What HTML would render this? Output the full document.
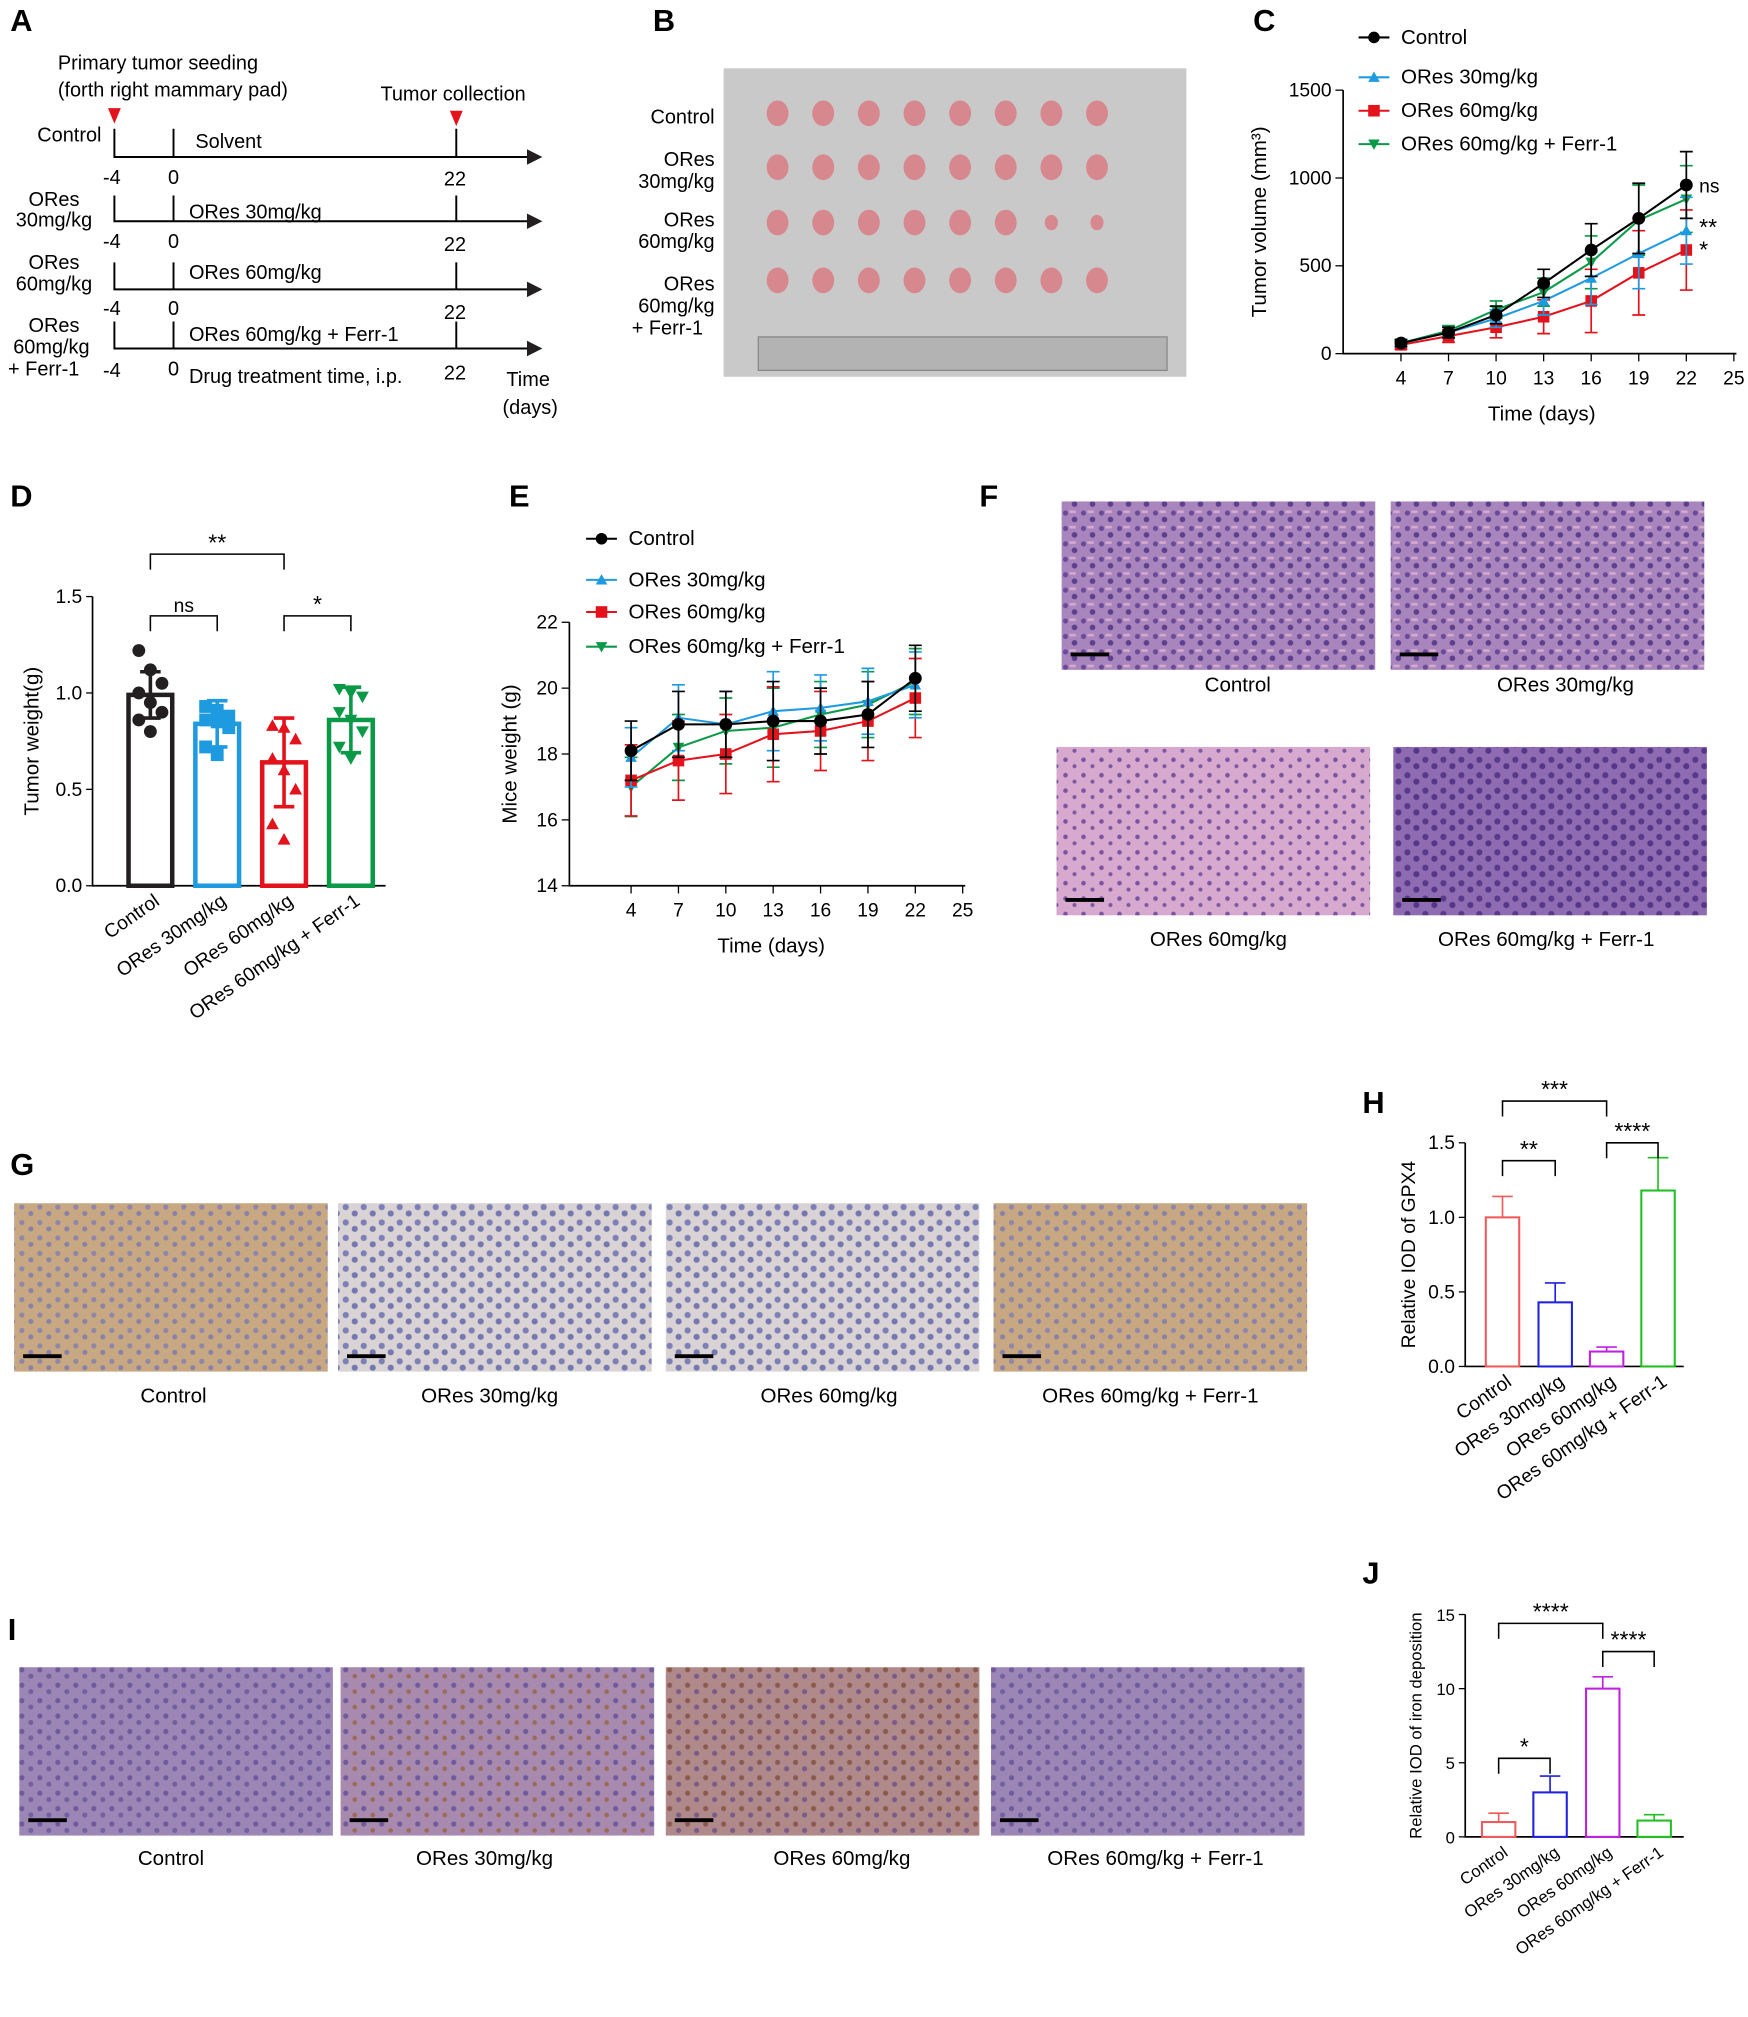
<!DOCTYPE html>
<html><head><meta charset="utf-8"><style>
html,body{margin:0;padding:0;background:#fff}
svg{display:block;font-family:"Liberation Sans",Arial,sans-serif}
</style></head><body>
<svg id="fig" width="1748" height="2017" viewBox="0 0 1360 1569" xmlns="http://www.w3.org/2000/svg">
<defs>
<pattern id="he1" width="14" height="12" patternUnits="userSpaceOnUse"><rect width="14" height="12" fill="#a886bd"/><circle cx="3" cy="3" r="2" fill="#6a4a98"/><circle cx="10" cy="8" r="2.2" fill="#5e3f8e"/><rect x="6" y="1" width="5" height="2" fill="#d7a9cf"/></pattern>
<pattern id="he2" width="14" height="12" patternUnits="userSpaceOnUse"><rect width="14" height="12" fill="#d8a9cf"/><circle cx="3" cy="3" r="1.8" fill="#7a54a0"/><circle cx="10" cy="8" r="1.6" fill="#7c58a2"/></pattern>
<pattern id="he3" width="14" height="12" patternUnits="userSpaceOnUse"><rect width="14" height="12" fill="#8f6cb2"/><circle cx="3" cy="3" r="2.4" fill="#58398a"/><circle cx="10" cy="8" r="2.4" fill="#553688"/></pattern>
<pattern id="ihcBrown" width="14" height="12" patternUnits="userSpaceOnUse"><rect width="14" height="12" fill="#c7a883"/><circle cx="3" cy="3" r="2" fill="#8f86a8"/><circle cx="10" cy="8" r="2" fill="#8a82a5"/></pattern>
<pattern id="ihcBlue" width="14" height="12" patternUnits="userSpaceOnUse"><rect width="14" height="12" fill="#d9d3d6"/><circle cx="3" cy="3" r="2.4" fill="#7c80b4"/><circle cx="10" cy="8" r="2.4" fill="#7478ae"/></pattern>
<pattern id="ironA" width="14" height="12" patternUnits="userSpaceOnUse"><rect width="14" height="12" fill="#9c86b6"/><circle cx="3" cy="3" r="2" fill="#6e5a9c"/><circle cx="10" cy="8" r="2" fill="#73609f"/></pattern>
<pattern id="ironB" width="14" height="12" patternUnits="userSpaceOnUse"><rect width="14" height="12" fill="#a78aae"/><circle cx="3" cy="3" r="2" fill="#6e5a9c"/><circle cx="10" cy="8" r="1.8" fill="#9b6a58"/></pattern>
<pattern id="ironC" width="14" height="12" patternUnits="userSpaceOnUse"><rect width="14" height="12" fill="#b08a8a"/><circle cx="3" cy="3" r="2" fill="#8a5a50"/><circle cx="10" cy="8" r="2" fill="#7a5a88"/></pattern>
</defs>
<g font-size="16" fill="#000">
<!-- Panel labels -->
<text x="8" y="24" font-size="24" font-weight="bold">A</text>
<text x="508" y="24" font-size="24" font-weight="bold">B</text>
<text x="975" y="24" font-size="24" font-weight="bold">C</text>
<text x="8" y="394" font-size="24" font-weight="bold">D</text>
<text x="396" y="394" font-size="24" font-weight="bold">E</text>
<text x="762" y="394" font-size="24" font-weight="bold">F</text>
<text x="8" y="914" font-size="24" font-weight="bold">G</text>
<text x="1060" y="866" font-size="24" font-weight="bold">H</text>
<text x="6" y="1276" font-size="24" font-weight="bold">I</text>
<text x="1060" y="1232" font-size="24" font-weight="bold">J</text>
</g>
<!-- Panel A -->
<g id="panelA" font-size="15.5" stroke-width="1.5">
<text x="45" y="54">Primary tumor seeding</text>
<text x="45" y="75">(forth right mammary pad)</text>
<text x="296" y="78">Tumor collection</text>
<polygon points="84,84 94,84 89,96" fill="#e3121b"/>
<polygon points="350,86 360,86 355,98" fill="#e3121b"/>
<text x="29" y="110">Control</text><text x="152" y="115">Solvent</text>
<text x="42" y="160" text-anchor="middle">ORes</text><text x="42" y="176" text-anchor="middle">30mg/kg</text>
<text x="42" y="209" text-anchor="middle">ORes</text><text x="42" y="226" text-anchor="middle">60mg/kg</text>
<text x="42" y="258" text-anchor="middle">ORes</text><text x="40" y="275" text-anchor="middle">60mg/kg</text><text x="34" y="292" text-anchor="middle">+ Ferr-1</text>
<text x="147" y="170">ORes 30mg/kg</text>
<text x="147" y="217">ORes 60mg/kg</text>
<text x="147" y="265">ORes 60mg/kg + Ferr-1</text>
<text x="147" y="298">Drug treatment time, i.p.</text>
<text x="394" y="300">Time</text><text x="391" y="322">(days)</text>
<g stroke="#000" fill="none">
<path d="M89,100V122H415M135,100V122M355,100V122"/>
<path d="M89,152V172H415M135,152V172M355,152V172"/>
<path d="M89,204V225H415M135,204V225M355,204V225"/>
<path d="M89,250V271H415M135,250V271M355,250V271"/>
</g>
<g fill="#231f20"><polygon points="410,116 422,122 410,128"/><polygon points="410,166 422,172 410,178"/><polygon points="410,219 422,225 410,231"/><polygon points="410,265 422,271 410,277"/></g>
<g text-anchor="middle">
<text x="87" y="143">-4</text><text x="135" y="143">0</text><text x="354" y="144">22</text>
<text x="87" y="193">-4</text><text x="135" y="193">0</text><text x="354" y="195">22</text>
<text x="87" y="245">-4</text><text x="135" y="245">0</text><text x="354" y="248">22</text>
<text x="87" y="293">-4</text><text x="135" y="292">0</text><text x="354" y="295">22</text>
</g>
</g>
<!-- Panel B -->
<g id="panelB" font-size="15.5">
<text x="556" y="96" text-anchor="end">Control</text>
<text x="556" y="129" text-anchor="end">ORes</text><text x="556" y="146" text-anchor="end">30mg/kg</text>
<text x="556" y="176" text-anchor="end">ORes</text><text x="556" y="193" text-anchor="end">60mg/kg</text>
<text x="556" y="226" text-anchor="end">ORes</text><text x="556" y="243" text-anchor="end">60mg/kg</text><text x="547" y="260" text-anchor="end">+ Ferr-1</text>
<rect x="563" y="53" width="360" height="240" fill="#c9c9c9"/>
<rect x="590" y="262" width="318" height="26" fill="#b3b3b3" stroke="#888"/>
<g id="tumors"></g>
</g>
<g id="charts"></g>
<g id="histo"></g>
</svg>
<script>
// ---------- data ----------
const days = [4, 7, 10, 13, 16, 19, 22];
const xTicks = [4, 7, 10, 13, 16, 19, 22, 25];
const cControl = [60, 120, 220, 400, 590, 770, 960];
const c30 = [60, 120, 200, 300, 430, 570, 700];
const c60 = [50, 100, 150, 210, 300, 460, 590];
const cFerr = [60, 130, 250, 350, 520, 760, 880];
const cErr = [20, 30, 50, 80, 150, 200, 190];
const eControl = [18.1, 18.9, 18.9, 19.0, 19.0, 19.2, 20.3];
const e30 = [17.9, 19.1, 18.9, 19.3, 19.4, 19.6, 20.1];
const e60 = [17.2, 17.8, 18.0, 18.6, 18.7, 19.0, 19.7];
const eFerr = [17.0, 18.2, 18.7, 18.8, 19.2, 19.5, 20.2];
const eErr = [0.9, 1.0, 1.0, 1.2, 1.0, 1.0, 1.0];
const groups = ["Control", "ORes 30mg/kg", "ORes 60mg/kg", "ORes 60mg/kg + Ferr-1"];
const dMeans = [0.99, 0.84, 0.64, 0.86];
const dErrs = [0.12, 0.12, 0.23, 0.17];
const dPoints = [[1.22,1.12,1.05,1.0,0.95,0.90,0.86,0.80],[0.93,0.91,0.88,0.86,0.85,0.82,0.72,0.68],[0.83,0.82,0.76,0.66,0.60,0.50,0.32,0.24],[1.02,1.0,0.98,0.90,0.86,0.80,0.72,0.66]];
const hMeans = [1.0, 0.43, 0.1, 1.18];
const hErrs = [0.14, 0.13, 0.03, 0.22];
const jMeans = [1.0, 3.0, 10.0, 1.1];
const jErrs = [0.6, 1.1, 0.8, 0.4];
const colors = ["#231f20", "#1e9be0", "#e3121b", "#0a9a47"];
const hColors = ["#f05a5a", "#2020e0", "#c020e0", "#20c020"];

const NS = "http://www.w3.org/2000/svg";
const charts = document.getElementById("charts");
function mk(tag, attrs, parent, text) {
  const e = document.createElementNS(NS, tag);
  for (const k in attrs) e.setAttribute(k, attrs[k]);
  if (text !== undefined) e.textContent = text;
  (parent || charts).appendChild(e);
  return e;
}
function marker(g, shape, x, y, col, s) {
  let el;
  if (shape === "circle") el = mk("circle", {cx: x, cy: y, r: s, fill: col}, g);
  else if (shape === "square") el = mk("rect", {x: x - s, y: y - s, width: 2 * s, height: 2 * s, fill: col}, g);
  else if (shape === "up") el = mk("polygon", {points: `${x},${y - s} ${x - s},${y + s * 0.8} ${x + s},${y + s * 0.8}`, fill: col}, g);
  else el = mk("polygon", {points: `${x},${y + s} ${x - s},${y - s * 0.8} ${x + s},${y - s * 0.8}`, fill: col}, g);
  
  
  return el;
}

// ---------- line charts (C, E) ----------
function lineChart(cfg) {
  const g = mk("g", {});
  
  
  const xs = d => cfg.x0 + (d - 4) * (cfg.x1 - cfg.x0) / 21;
  const ys = v => cfg.y0 - (v - cfg.ymin) * (cfg.y0 - cfg.y1) / (cfg.ymax - cfg.ymin);
  mk("path", {d: `M${cfg.ax},${ys(cfg.ymax)}V${cfg.y0}H${cfg.x1 + 2}`, stroke: "#000", fill: "none", "stroke-width": 1.3}, g);
  xTicks.forEach(t => {
    mk("line", {x1: xs(t), x2: xs(t), y1: cfg.y0, y2: cfg.y0 + 6, stroke: "#000"}, g);
    const tl = mk("text", {x: xs(t), y: cfg.y0 + 24, "text-anchor": "middle", "font-size": 15}, g, t);
    
    
  });
  cfg.yTicks.forEach(t => {
    mk("line", {x1: cfg.ax - 6, x2: cfg.ax, y1: ys(t), y2: ys(t), stroke: "#000"}, g);
    const tl = mk("text", {x: cfg.ax - 9, y: ys(t) + 5, "text-anchor": "end", "font-size": 15}, g, t);
    
    
  });
  const xt = mk("text", {x: (cfg.x0 + cfg.x1) / 2 - 20, y: cfg.y0 + 52, "text-anchor": "middle", "font-size": 16}, g, "Time (days)");
  
  
  const yt = mk("text", {transform: `translate(${cfg.ytx},${(cfg.y0 + ys(cfg.ymax)) / 2}) rotate(-90)`, "text-anchor": "middle", "font-size": 16}, g, cfg.ytitle);
  
  
  const shapes = ["circle", "up", "square", "down"];
  const order = [3, 2, 1, 0];
  order.forEach(i => {
    const vals = cfg.series[i], col = colors[i] === "#231f20" ? "#000" : colors[i];
    const sg = mk("g", {}, g);
    
    
    vals.forEach((v, k) => {
      const e = cfg.err[k] * (i === 2 ? 1.2 : 1);
      mk("path", {d: `M${xs(days[k])},${ys(v - e)}V${ys(v + e)}M${xs(days[k]) - 5},${ys(v + e)}h10M${xs(days[k]) - 5},${ys(v - e)}h10`, stroke: col, "stroke-width": 1.3}, sg);
    });
    mk("polyline", {points: vals.map((v, k) => xs(days[k]) + "," + ys(v)).join(" "), fill: "none", stroke: col, "stroke-width": 1.6}, sg);
    vals.forEach((v, k) => marker(sg, shapes[i], xs(days[k]), ys(v), col, i === 0 ? 5 : 4.5));
  });
  cfg.legendY.forEach((ly, i) => {
    const col = colors[i] === "#231f20" ? "#000" : colors[i];
    const lg = mk("g", {}, g);
    
    
    mk("line", {x1: cfg.lx, x2: cfg.lx + 24, y1: ly, y2: ly, stroke: col, "stroke-width": 1.6}, lg);
    marker(lg, shapes[i], cfg.lx + 12, ly, col, 4.5);
    mk("text", {x: cfg.lx + 33, y: ly + 5, "font-size": 16}, lg, groups[i]);
  });
  return {g, xs, ys};
}
const C = lineChart({name: "tumor-volume-chart", x0: 1090, x1: 1349, ax: 1045, y0: 275, y1: 70, ymin: 0, ymax: 1500,
  yTicks: [0, 500, 1000, 1500], ytitle: "Tumor volume (mm³)", ytx: 985, series: [cControl, c30, c60, cFerr], err: cErr,
  lx: 1057, legendY: [29, 60, 86, 112]});
[["ns", 960], ["**", 720], ["*", 590]].forEach(([t, v], i) => {
  const s = mk("text", {x: 1322, y: C.ys(v) + 6, "font-size": i ? 18 : 15}, C.g, t);
  
  
});
lineChart({name: "mice-weight-chart", x0: 491, x1: 749, ax: 443, y0: 689, y1: 484, ymin: 14, ymax: 22,
  yTicks: [14, 16, 18, 20, 22], ytitle: "Mice weight (g)", ytx: 402, series: [eControl, e30, e60, eFerr], err: eErr,
  lx: 456, legendY: [419, 451, 476, 503]});

// ---------- bar charts ----------
function barChart(cfg) {
  const g = mk("g", {});
  
  
  const ys = v => cfg.y0 - v * (cfg.y0 - cfg.y1) / cfg.ymax;
  mk("path", {d: `M${cfg.ax},${ys(cfg.ymax)}V${cfg.y0}H${cfg.xEnd}`, stroke: "#000", fill: "none", "stroke-width": 1.3}, g);
  cfg.yTicks.forEach(t => {
    mk("line", {x1: cfg.ax - 5, x2: cfg.ax, y1: ys(t), y2: ys(t), stroke: "#000"}, g);
    const tl = mk("text", {x: cfg.ax - 8, y: ys(t) + 5, "text-anchor": "end", "font-size": cfg.fs}, g, cfg.tickFmt(t));
    
    
  });
  const yt = mk("text", {transform: `translate(${cfg.ytx},${(cfg.y0 + ys(cfg.ymax)) / 2}) rotate(-90)`, "text-anchor": "middle", "font-size": cfg.ytfs}, g, cfg.ytitle);
  
  
  cfg.means.forEach((m, i) => {
    const cx = cfg.cx[i], col = cfg.colors[i], w = cfg.bw;
    const b = mk("rect", {x: cx - w / 2, y: ys(m), width: w, height: cfg.y0 - ys(m), fill: "none", stroke: col, "stroke-width": cfg.sw}, g);
    
    
    const e = cfg.errs[i];
    mk("path", {d: `M${cx},${ys(m)}V${ys(m + e)}M${cx - 8},${ys(m + e)}h16` + (cfg.both ? `M${cx},${ys(m)}V${ys(m - e)}M${cx - 8},${ys(m - e)}h16` : ""), stroke: col, "stroke-width": cfg.sw * 0.8, fill: "none"}, g);
    if (cfg.points) cfg.points[i].forEach((p, k) => marker(g, ["circle", "square", "up", "down"][i], cx + ((k % 3) - 1) * 9, ys(p), col, 5));
    const lab = mk("text", {transform: `translate(${cx + 8},${cfg.y0 + 14}) rotate(-35)`, "text-anchor": "end", "font-size": cfg.fs}, g, cfg.labels[i]);
    
    
  });
  cfg.brackets.forEach(([a, b, yv, t]) => {
    const y = ys(yv);
    mk("path", {d: `M${cfg.cx[a]},${y + 12}V${y}H${cfg.cx[b]}V${y + 12}`, stroke: "#000", fill: "none", "stroke-width": 1.2}, g);
    const s = mk("text", {x: (cfg.cx[a] + cfg.cx[b]) / 2, y: y - 3, "text-anchor": "middle", "font-size": t === "ns" ? 15 : 18}, g, t);
    
    
  });
}
barChart({name: "tumor-weight-chart", ax: 72, xEnd: 300, y0: 689, y1: 464, ymax: 1.5, yTicks: [0, 0.5, 1, 1.5], tickFmt: t => t.toFixed(1), fs: 15,
  ytitle: "Tumor weight(g)", ytx: 30, ytfs: 16, means: dMeans, errs: dErrs, cx: [117, 169, 221, 273], bw: 34, sw: 3.5, colors: colors, both: true,
  points: dPoints, labels: ["Control", "ORes  30mg/kg", "ORes 60mg/kg", "ORes  60mg/kg + Ferr-1"],
  brackets: [[0, 2, 1.72, "**"], [0, 1, 1.4, "ns"], [2, 3, 1.4, "*"]]});
barChart({name: "gpx4-iod-chart", ax: 1140, xEnd: 1310, y0: 1063, y1: 889, ymax: 1.5, yTicks: [0, 0.5, 1, 1.5], tickFmt: t => t.toFixed(1), fs: 15,
  ytitle: "Relative IOD of GPX4", ytx: 1101, ytfs: 15, means: hMeans, errs: hErrs, cx: [1169, 1210, 1250, 1290], bw: 26, sw: 1.6, colors: hColors, both: false,
  labels: ["Control", "ORes  30mg/kg", "ORes 60mg/kg", "ORes  60mg/kg + Ferr-1"],
  brackets: [[0, 2, 1.78, "***"], [0, 1, 1.38, "**"], [2, 3, 1.5, "****"]]});
barChart({name: "iron-iod-chart", ax: 1140, xEnd: 1310, y0: 1429, y1: 1256, ymax: 15, yTicks: [0, 5, 10, 15], tickFmt: t => t, fs: 13,
  ytitle: "Relative IOD of iron deposition", ytx: 1106, ytfs: 13, means: jMeans, errs: jErrs, cx: [1166, 1206, 1247, 1287], bw: 26, sw: 1.6, colors: hColors, both: false,
  labels: ["Control", "ORes  30mg/kg", "ORes 60mg/kg", "ORes  60mg/kg + Ferr-1"],
  brackets: [[0, 2, 14.4, "****"], [0, 1, 5.3, "*"], [2, 3, 12.5, "****"]]});

// ---------- tumors in photo ----------
const tg = document.getElementById("tumors");
[88, 130, 173, 218].forEach((y, r) => {
  for (let i = 0; i < 8; i++) {
    const x = 605 + i * 35.5, rr = r === 2 && i > 5 ? 6 : 10;
    const e = mk("ellipse", {cx: x, cy: y, rx: rr * 0.85, ry: rr, fill: "#d7888e"}, tg);
    
    
  }
});
// ---------- histology images ----------
const hg = document.getElementById("histo");
const imgs = [
  [826, 390, 244, 131, "he1", "Control", 963, 538], [1082, 390, 244, 131, "he1", "ORes 30mg/kg", 1218, 538],
  [822, 581, 244, 131, "he2", "ORes 60mg/kg", 948, 736], [1084, 581, 244, 131, "he3", "ORes 60mg/kg + Ferr-1", 1203, 736],
  [11, 936, 244, 131, "ihcBrown", "Control", 135, 1091], [263, 936, 244, 131, "ihcBlue", "ORes  30mg/kg", 381, 1091],
  [518, 936, 244, 131, "ihcBlue", "ORes 60mg/kg", 645, 1091], [773, 936, 244, 131, "ihcBrown", "ORes  60mg/kg + Ferr-1", 895, 1091],
  [15, 1297, 244, 131, "ironA", "Control", 133, 1451], [265, 1297, 244, 131, "ironB", "ORes  30mg/kg", 377, 1451],
  [518, 1297, 244, 131, "ironC", "ORes 60mg/kg", 655, 1451], [771, 1297, 244, 131, "ironA", "ORes  60mg/kg + Ferr-1", 899, 1451]];
imgs.forEach(([x, y, w, h, p, lab, lx, ly]) => {
  const r = mk("rect", {x, y, width: w, height: h, fill: `url(#${p})`}, hg);
  
  
  mk("line", {x1: x + 7, x2: x + 37, y1: y + h - 12, y2: y + h - 12, stroke: "#000", "stroke-width": 3}, hg);
  const t = mk("text", {x: lx, y: ly, "text-anchor": "middle", "font-size": 16}, hg, lab);
  
  
});
</script>
</body></html>
